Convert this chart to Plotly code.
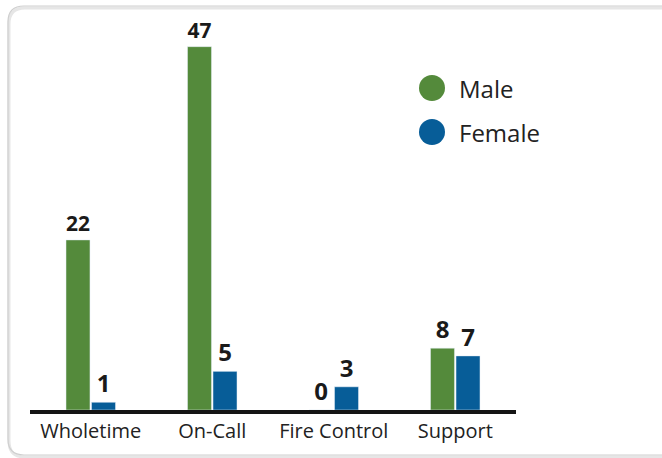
import plotly.graph_objects as go

categories = ["Wholetime", "On-Call", "Fire Control", "Support"]
male = [22, 47, 0, 8]
female = [1, 5, 3, 7]
series_names = ["Male", "Female"]
colors = ["#548a3b", "#075d98"]

W, H = 662, 458
ML, MR, MT, MB = 30, 146, 8, 48
PW, PH = W - ML - MR, H - MT - MB
FONT = "Open Sans"


def px_to_paper(x, y):
    return (x - ML) / PW, (H - MB - y) / PH


fig = go.Figure()
for name, vals, col in zip(series_names, [male, female], colors):
    fig.add_trace(go.Bar(
        x=categories, y=vals, name=name, marker_color=col,
        text=[str(v) for v in vals], textposition="outside",
        textfont=dict(family=FONT, size=24, color="#1a1a1a", weight="bold"),
        cliponaxis=False, showlegend=False,
    ))


def rounded_path(x0, y0, x1, y1, r):
    def P(x, y):
        a, b = px_to_paper(x, y)
        return f"{a:.5f},{b:.5f}"
    return (f"M {P(x0 + r, y0)} L {P(x1 - r, y0)} Q {P(x1, y0)} {P(x1, y0 + r)} "
            f"L {P(x1, y1 - r)} Q {P(x1, y1)} {P(x1 - r, y1)} L {P(x0 + r, y1)} "
            f"Q {P(x0, y1)} {P(x0, y1 - r)} L {P(x0, y0 + r)} Q {P(x0, y0)} {P(x0 + r, y0)} Z")


shapes = [
    dict(type="path", xref="paper", yref="paper", path=rounded_path(9, 8, 720, 457, 16),
         line=dict(color="#e6e6e6", width=3), layer="below"),
    dict(type="path", xref="paper", yref="paper", path=rounded_path(8, 6, 720, 455, 16),
         line=dict(color="#cfcfcf", width=1.2), layer="below"),
]

annotations = []
for i, (name, col) in enumerate(zip(series_names, colors)):
    cy = 88 + 44 * i
    x0, y0 = px_to_paper(432 - 13, cy - 13)
    x1, y1 = px_to_paper(432 + 13, cy + 13)
    shapes.append(dict(type="circle", xref="paper", yref="paper", x0=x0, y0=y0, x1=x1, y1=y1,
                       fillcolor=col, line=dict(width=0)))
    ax, ay = px_to_paper(457, cy)
    annotations.append(dict(xref="paper", yref="paper", x=ax, y=ay, text=name, showarrow=False,
                            xanchor="left", yanchor="middle",
                            font=dict(family=FONT, size=24, color="#222222")))

fig.update_layout(
    width=W, height=H,
    margin=dict(l=ML, r=MR, t=MT, b=MB),
    paper_bgcolor="white", plot_bgcolor="white",
    barmode="group", bargap=0.58, bargroupgap=0.06,
    shapes=shapes, annotations=annotations,
    xaxis=dict(showline=True, linecolor="#151515", linewidth=4, showgrid=False,
               ticks="", tickfont=dict(family=FONT, size=20, color="#222222"),
               range=[-0.5, 3.5]),
    yaxis=dict(range=[0, 52], visible=False, showgrid=False, zeroline=False),
    showlegend=False,
)

fig.write_html("out.html", config={"displayModeBar": False},
               post_script="document.body.style.margin='0px';")
